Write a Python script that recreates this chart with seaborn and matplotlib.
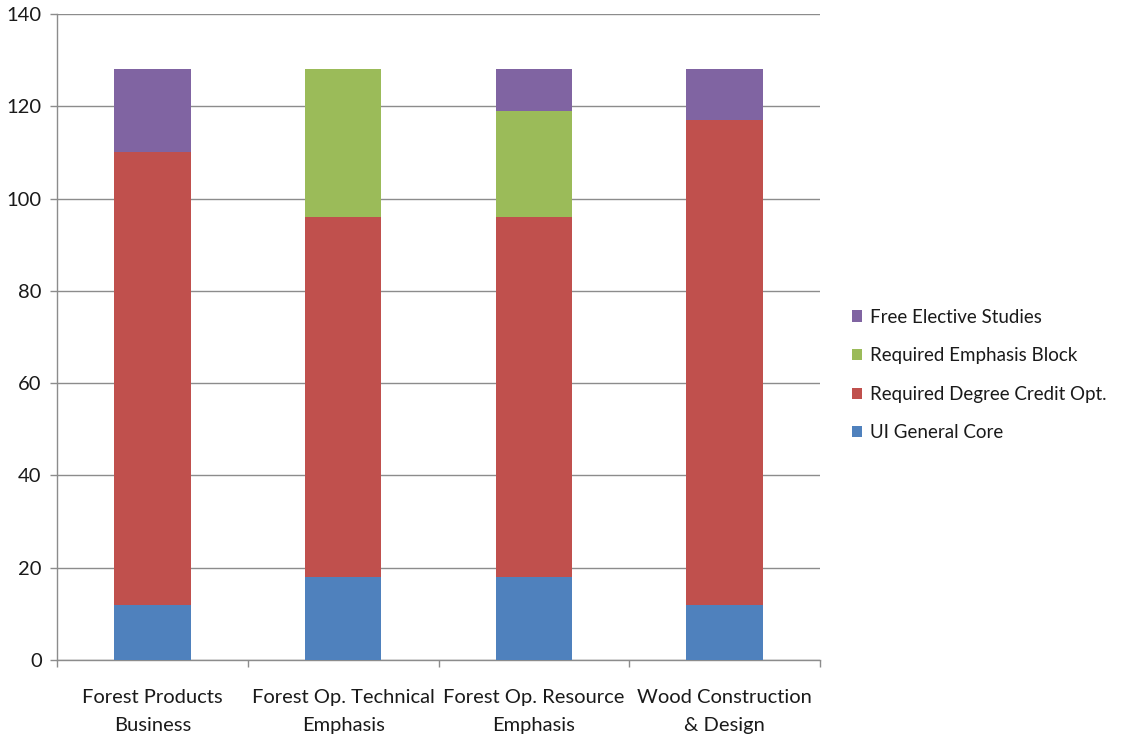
import matplotlib
matplotlib.use("Agg")
import matplotlib.pyplot as plt
import seaborn as sns
import numpy as np
import pandas as pd
from matplotlib.patches import Patch

# chart data
programs = ["Forest Products\nBusiness", "Forest Op. Technical\nEmphasis",
            "Forest Op. Resource\nEmphasis", "Wood Construction\n& Design"]
core = [12, 18, 18, 12]
degree = [98, 78, 78, 105]
emphasis = [0, 32, 23, 0]
elective = [18, 0, 9, 11]

series_names = ["UI General Core", "Required Degree Credit Opt.",
                "Required Emphasis Block", "Free Elective Studies"]
series_colors = ["#4F81BD", "#C0504D", "#9BBB59", "#8064A2"]

sns.set_style("white")
plt.rcParams["font.family"] = ["Lato", "DejaVu Sans"]

fig = plt.figure(figsize=(11.3, 7.35), dpi=100)
ax = fig.add_axes([57 / 1130, 75 / 735, 763 / 1130, 646 / 735])

# stack the series one on top of the other
bottom = np.zeros(len(programs))
for name, vals, col in zip(series_names, [core, degree, emphasis, elective], series_colors):
    df = pd.DataFrame({"program": programs, "value": vals})
    sns.barplot(data=df, x="program", y="value", color=col, width=0.4,
                saturation=1, bottom=bottom, ax=ax, zorder=3, edgecolor="none")
    bottom = bottom + np.array(vals)

ax.set_ylim(0, 140)
ax.set_xlim(-0.5, len(programs) - 0.5)
ax.set_yticks(range(0, 141, 20))
ax.yaxis.grid(True, color="#8c8c8c", linewidth=1, zorder=0)
ax.set_axisbelow(True)

for s in ["top", "right"]:
    ax.spines[s].set_visible(False)
for s in ["left", "bottom"]:
    ax.spines[s].set_color("#8c8c8c")
    ax.spines[s].set_linewidth(1)

ax.set_xlabel("")
ax.set_ylabel("")
ax.tick_params(axis="y", direction="out", length=5, color="#8c8c8c",
               width=1, labelsize=14.5, pad=6, left=True, labelcolor="#1a1a1a")
ax.tick_params(axis="x", which="major", length=0, labelsize=14.5, pad=21,
               labelcolor="#1a1a1a")
ax.set_xticks(np.arange(-0.5, len(programs), 1.0), minor=True)
ax.tick_params(axis="x", which="minor", direction="out", length=5,
               color="#8c8c8c", width=1, bottom=True)
for lab in ax.get_xticklabels():
    lab.set_linespacing(1.75)

handles = [Patch(facecolor=c, edgecolor="none") for c in series_colors][::-1]
fig.legend(handles, series_names[::-1], loc="center left",
           bbox_to_anchor=(852 / 1130, (735 - 375) / 735), frameon=False,
           borderaxespad=0, borderpad=0,
           fontsize=13.5, handlelength=0.55, handleheight=0.55,
           handletextpad=0.4, labelspacing=1.15, labelcolor="#1a1a1a")

fig.savefig("out.png", dpi=100, facecolor="white")
